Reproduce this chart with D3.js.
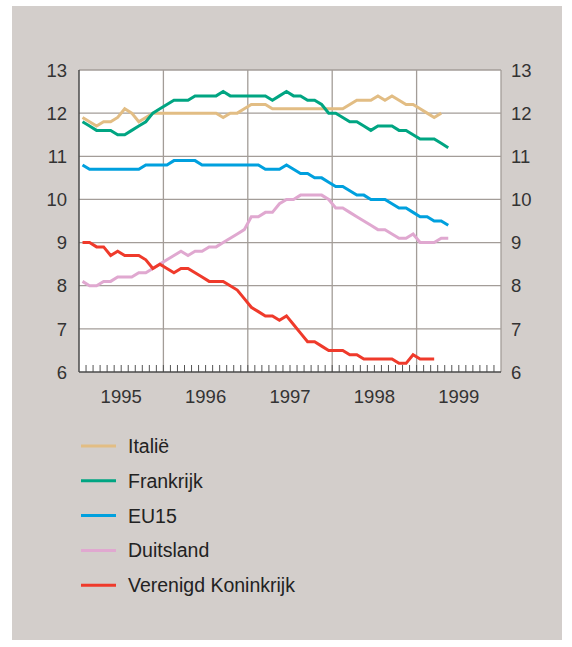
<!DOCTYPE html>
<html>
<head>
<meta charset="utf-8">
<script src="https://cdn.jsdelivr.net/npm/d3@7"></script>
<style>
  html, body { margin: 0; padding: 0; background: #ffffff; }
  svg { display: block; font-family: "Liberation Sans", Arial, Helvetica, sans-serif; }
</style>
</head>
<body>
<svg id="chart"></svg>
<script>
// monthly values, first point = January 1995
var startYear = 1995;
var years = [1995, 1996, 1997, 1998, 1999];
var yTicks = [6, 7, 8, 9, 10, 11, 12, 13];

var italie = [
  11.9, 11.8, 11.7, 11.8, 11.8, 11.9, 12.1, 12.0, 11.8, 11.9, 12.0, 12.0,
  12.0, 12.0, 12.0, 12.0, 12.0, 12.0, 12.0, 12.0, 11.9, 12.0, 12.0, 12.1,
  12.2, 12.2, 12.2, 12.1, 12.1, 12.1, 12.1, 12.1, 12.1, 12.1, 12.1, 12.1,
  12.1, 12.1, 12.2, 12.3, 12.3, 12.3, 12.4, 12.3, 12.4, 12.3, 12.2, 12.2,
  12.1, 12.0, 11.9, 12.0
];
var frankrijk = [
  11.8, 11.7, 11.6, 11.6, 11.6, 11.5, 11.5, 11.6, 11.7, 11.8, 12.0, 12.1,
  12.2, 12.3, 12.3, 12.3, 12.4, 12.4, 12.4, 12.4, 12.5, 12.4, 12.4, 12.4,
  12.4, 12.4, 12.4, 12.3, 12.4, 12.5, 12.4, 12.4, 12.3, 12.3, 12.2, 12.0,
  12.0, 11.9, 11.8, 11.8, 11.7, 11.6, 11.7, 11.7, 11.7, 11.6, 11.6, 11.5,
  11.4, 11.4, 11.4, 11.3, 11.2
];
var eu15 = [
  10.8, 10.7, 10.7, 10.7, 10.7, 10.7, 10.7, 10.7, 10.7, 10.8, 10.8, 10.8,
  10.8, 10.9, 10.9, 10.9, 10.9, 10.8, 10.8, 10.8, 10.8, 10.8, 10.8, 10.8,
  10.8, 10.8, 10.7, 10.7, 10.7, 10.8, 10.7, 10.6, 10.6, 10.5, 10.5, 10.4,
  10.3, 10.3, 10.2, 10.1, 10.1, 10.0, 10.0, 10.0, 9.9, 9.8, 9.8, 9.7,
  9.6, 9.6, 9.5, 9.5, 9.4
];
var duitsland = [
  8.1, 8.0, 8.0, 8.1, 8.1, 8.2, 8.2, 8.2, 8.3, 8.3, 8.4, 8.5,
  8.6, 8.7, 8.8, 8.7, 8.8, 8.8, 8.9, 8.9, 9.0, 9.1, 9.2, 9.3,
  9.6, 9.6, 9.7, 9.7, 9.9, 10.0, 10.0, 10.1, 10.1, 10.1, 10.1, 10.0,
  9.8, 9.8, 9.7, 9.6, 9.5, 9.4, 9.3, 9.3, 9.2, 9.1, 9.1, 9.2,
  9.0, 9.0, 9.0, 9.1, 9.1
];
var verenigdKoninkrijk = [
  9.0, 9.0, 8.9, 8.9, 8.7, 8.8, 8.7, 8.7, 8.7, 8.6, 8.4, 8.5,
  8.4, 8.3, 8.4, 8.4, 8.3, 8.2, 8.1, 8.1, 8.1, 8.0, 7.9, 7.7,
  7.5, 7.4, 7.3, 7.3, 7.2, 7.3, 7.1, 6.9, 6.7, 6.7, 6.6, 6.5,
  6.5, 6.5, 6.4, 6.4, 6.3, 6.3, 6.3, 6.3, 6.3, 6.2, 6.2, 6.4,
  6.3, 6.3, 6.3
];

var seriesNames = ["Italië", "Frankrijk", "EU15", "Duitsland", "Verenigd Koninkrijk"];
var seriesValues = [italie, frankrijk, eu15, duitsland, verenigdKoninkrijk];
var seriesColors = ["#e2bd84", "#00a582", "#00a0de", "#e0a8d0", "#ef3a2b"];

var W = 572, H = 647;
var margin = {top: 70, right: 71, bottom: 275, left: 79},
    width = W - margin.left - margin.right,
    height = H - margin.top - margin.bottom;

var svg = d3.select("#chart").attr("width", W).attr("height", H);

// grey panel
svg.append("rect")
  .attr("x", 12).attr("y", 6)
  .attr("width", 550).attr("height", 634)
  .attr("fill", "#d3cecb");

var g = svg.append("g")
  .attr("transform", "translate(" + margin.left + "," + margin.top + ")");

var x = d3.scaleLinear()
  .domain([startYear, years[years.length - 1] + 1])
  .range([0, width]);

var y = d3.scaleLinear()
  .domain([6, 13])
  .range([height, 0]);

// plot background
g.append("rect")
  .attr("width", width).attr("height", height)
  .attr("fill", "#ffffff");

// horizontal grid
g.append("g")
  .selectAll("line")
  .data(yTicks.slice(1))
  .join("line")
    .attr("x1", 0).attr("x2", width)
    .attr("y1", function(d) { return y(d); })
    .attr("y2", function(d) { return y(d); })
    .attr("stroke", "#a39d98").attr("stroke-width", 1.3);

// vertical grid at year boundaries
g.append("g")
  .selectAll("line")
  .data(years.slice(1).concat([years[years.length - 1] + 1]))
  .join("line")
    .attr("x1", function(d) { return x(d); })
    .attr("x2", function(d) { return x(d); })
    .attr("y1", 0).attr("y2", height)
    .attr("stroke", "#a39d98").attr("stroke-width", 1.3);

// month ticks on the bottom axis
var months = d3.range(1, years.length * 12);
g.append("g")
  .selectAll("line")
  .data(months)
  .join("line")
    .attr("x1", function(d) { return x(startYear + d / 12); })
    .attr("x2", function(d) { return x(startYear + d / 12); })
    .attr("y1", height).attr("y2", height - 7)
    .attr("stroke", "#555").attr("stroke-width", 1);

// left and bottom axis lines
g.append("line")
  .attr("x1", 0).attr("x2", 0).attr("y1", 0).attr("y2", height)
  .attr("stroke", "#4a4a4a").attr("stroke-width", 1.5);
g.append("line")
  .attr("x1", 0).attr("x2", width).attr("y1", height).attr("y2", height)
  .attr("stroke", "#4a4a4a").attr("stroke-width", 1.5);

// y labels, both sides
g.append("g")
  .selectAll("text")
  .data(yTicks)
  .join("text")
    .attr("x", -12)
    .attr("y", function(d) { return y(d); })
    .attr("dy", "0.36em")
    .attr("text-anchor", "end")
    .attr("font-size", 18.5)
    .attr("fill", "#333")
    .text(function(d) { return d; });

g.append("g")
  .selectAll("text")
  .data(yTicks)
  .join("text")
    .attr("x", width + 10)
    .attr("y", function(d) { return y(d); })
    .attr("dy", "0.36em")
    .attr("text-anchor", "start")
    .attr("font-size", 18.5)
    .attr("fill", "#333")
    .text(function(d) { return d; });

// year labels centred in each year
g.append("g")
  .selectAll("text")
  .data(years)
  .join("text")
    .attr("x", function(d) { return x(d + 0.5); })
    .attr("y", height + 31)
    .attr("text-anchor", "middle")
    .attr("font-size", 18.5)
    .attr("fill", "#333")
    .text(function(d) { return d; });

// lines
var line = d3.line()
  .x(function(d, i) { return x(startYear + (i + 0.5) / 12); })
  .y(function(d) { return y(d); });

g.append("g")
  .selectAll("path")
  .data(seriesValues)
  .join("path")
    .attr("d", function(d) { return line(d); })
    .attr("fill", "none")
    .attr("stroke", function(d, i) { return seriesColors[i]; })
    .attr("stroke-width", 3);

// legend
var legend = svg.append("g")
  .selectAll("g")
  .data(seriesNames)
  .join("g")
    .attr("transform", function(d, i) { return "translate(81," + (446 + i * 34.8) + ")"; });

legend.append("line")
  .attr("x1", 0).attr("x2", 35)
  .attr("stroke", function(d, i) { return seriesColors[i]; })
  .attr("stroke-width", 3);

legend.append("text")
  .attr("x", 47)
  .attr("dy", "0.36em")
  .attr("font-size", 19.5)
  .attr("fill", "#222")
  .text(function(d) { return d; });
</script>
</body>
</html>
